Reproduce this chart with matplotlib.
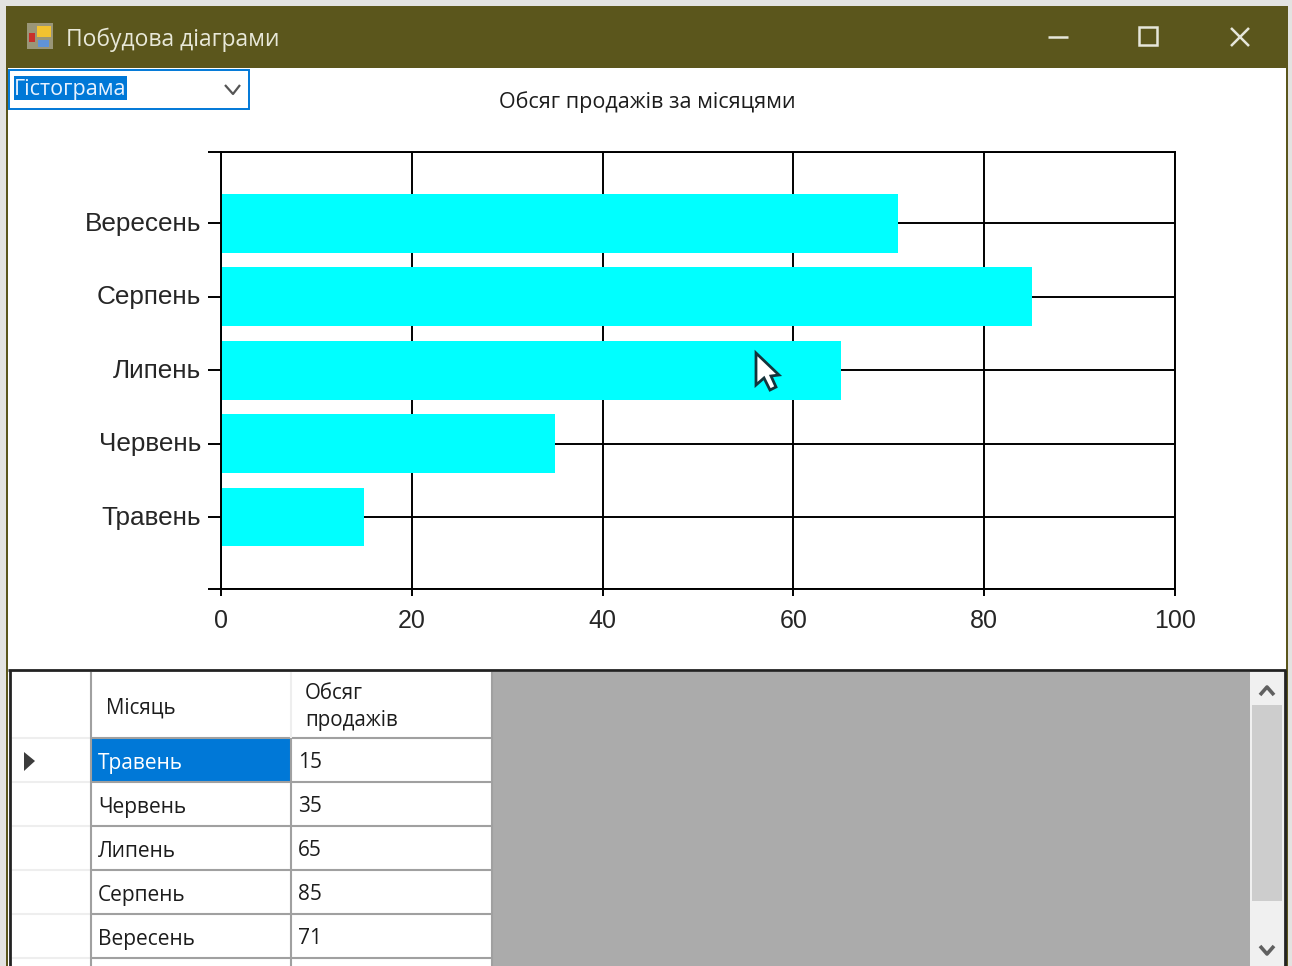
import numpy as np
import matplotlib
matplotlib.use("Agg")
import matplotlib.pyplot as plt
from matplotlib.patches import Rectangle, Polygon
from matplotlib.transforms import ScaledTranslation

W, H = 1292, 966

months = ["Травень", "Червень", "Липень", "Серпень", "Вересень"]
sales = [15, 35, 65, 85, 71]
x_ticks = [0, 20, 40, 60, 80, 100]

window_title = "Побудова діаграми"
chart_title = "Обсяг продажів за місяцями"
combo_text = "Гістограма"
col_month = "Місяць"
col_sales = "Обсяг\nпродажів"

plt.rcParams["font.family"] = ["Liberation Sans", "DejaVu Sans"]

TITLE_BAR = "#5b561c"
TEXT = "#1c1c1c"
GRID_LINE = "#a0a0a0"
FAINT_LINE = "#eeeeee"
SELECT = "#0078d7"
UI_FONT = ["Open Sans", "DejaVu Sans"]


def rect(ax, x0, y0, x1, y1, color, z=1):
    ax.add_patch(Rectangle((x0, y0), x1 - x0, y1 - y0, facecolor=color, edgecolor="none", zorder=z))


def line(ax, xs, ys, color, lw=1.5, z=3):
    ax.plot(xs, ys, color=color, lw=lw, zorder=z, solid_capstyle="butt")


fig = plt.figure(figsize=(W / 100, H / 100), dpi=100, facecolor="#e3e3e1")

# whole window is drawn in pixel coordinates
bg = fig.add_axes([0, 0, 1, 1])
bg.set_xlim(0, W)
bg.set_ylim(H, 0)
bg.axis("off")

rect(bg, 6, 6, 1288, H, TITLE_BAR, 0)
rect(bg, 8, 68, 1286, H, "white", 1)

# title bar
bg.text(66, 40, window_title, fontsize=16.45, color="#e8e8d8", family=UI_FONT, va="center")
rect(bg, 27, 23, 53, 49, "#9a9678", 2)
rect(bg, 37, 26, 51, 37, "#f2c230", 3)
rect(bg, 29, 33, 35, 42, "#c8302a", 3)
rect(bg, 38, 40, 49, 47, "#5f93d8", 3)
line(bg, [1048, 1068], [37, 37], "#e6e6da", 1.8)
bg.add_patch(Rectangle((1139, 27), 18, 18, fill=False, edgecolor="#e6e6da", lw=1.8, zorder=3))
line(bg, [1231, 1249], [28, 46], "#e6e6da", 1.8)
line(bg, [1231, 1249], [46, 28], "#e6e6da", 1.8)

# combo box
bg.add_patch(Rectangle((9, 70), 240, 39, facecolor="white", edgecolor=SELECT, lw=1.4, zorder=3))
rect(bg, 14, 76, 127, 100, SELECT, 4)
bg.text(14, 90, combo_text, fontsize=15.5, color="#e8f2ff", va="center", zorder=5, family=UI_FONT)
line(bg, [225, 233, 240], [85, 94, 85], "#555555", 1.6, 4)

bg.text(647, 102, chart_title, fontsize=15.5, color=TEXT, ha="center", va="center", family=UI_FONT)

# chart
y_min, y_max = 0.02, 5.97
ax = fig.add_axes([221 / W, 1 - 589 / H, (1175 - 221) / W, (589 - 152) / H])
ax.patch.set_alpha(0)
y_pos = np.arange(1, len(months) + 1)
ax.barh(y_pos, sales, height=0.8, color="#00ffff", zorder=2)
ax.set_xlim(0, 100)
ax.set_ylim(y_min, y_max)
ax.set_xticks(x_ticks)
ax.set_yticks([y_min, *y_pos, y_max])
ax.set_yticklabels([""] + months + [""])
ax.grid(True, color="black", lw=1.4)
ax.set_axisbelow(True)
ax.tick_params(axis="y", length=9.4, width=1.4, labelsize=18.8, pad=5, labelcolor="#262626")
ax.tick_params(axis="x", length=5, width=1.4, labelsize=18, pad=9.5, labelcolor="#262626")
for s in ax.spines.values():
    s.set_linewidth(1.4)
# labels sit a little higher than the ticks
for lbl in ax.get_yticklabels():
    lbl.set_transform(lbl.get_transform() + ScaledTranslation(0, 2 / 100, fig.dpi_scale_trans))

# cursor over the chart
cur = fig.add_axes([0, 0, 1, 1], zorder=5)
cur.set_xlim(0, W)
cur.set_ylim(H, 0)
cur.axis("off")
cur.add_patch(Polygon([(756, 353), (756, 385), (764, 378), (770, 390), (776, 387), (771, 376), (779, 375)],
                      closed=True, facecolor="white", edgecolor="#14343c", lw=2))

# data grid underneath
line(bg, [8, 1286], [670, 670], "#222222", 2)
line(bg, [10, 10], [670, H], "#222222", 2)
line(bg, [1285, 1285], [670, H], "#222222", 2)
rect(bg, 493, 672, 1250, H, "#ababab", 1)
rect(bg, 1250, 672, 1284, H, "#f0f0f0", 1)
rect(bg, 1252, 705, 1282, 901, "#cdcdcd", 2)
line(bg, [1260, 1267, 1274], [695, 687, 695], "#606060", 2.6)
line(bg, [1260, 1267, 1274], [946, 954, 946], "#606060", 2.6)

col_x = [91, 291, 492]
row_h = 44
first_row = 738
n_rows = len(months)
row_edges = [first_row + i * row_h for i in range(n_rows + 1)]

for y in row_edges:
    line(bg, [col_x[0], col_x[2]], [y, y], GRID_LINE)
    line(bg, [12, col_x[0]], [y, y], FAINT_LINE)
line(bg, [col_x[0], col_x[0]], [672, H], GRID_LINE)
line(bg, [col_x[1], col_x[1]], [738, H], GRID_LINE)
line(bg, [col_x[1], col_x[1]], [672, 738], FAINT_LINE)
line(bg, [col_x[2], col_x[2]], [672, H], GRID_LINE)
rect(bg, col_x[0] + 1, 739, col_x[1] - 1, 781, SELECT, 2)

bg.text(106, 708, col_month, fontsize=14.8, color=TEXT, va="center", family=UI_FONT)
bg.text(305, 707, col_sales, fontsize=14.8, color=TEXT, va="center", linespacing=1.35, family=UI_FONT)

for i, (m, v) in enumerate(zip(months, sales)):
    yc = first_row + row_h * i + 24
    bg.text(98, yc + 1.5, m, fontsize=15, va="center", color="white" if i == 0 else TEXT, zorder=4, family=UI_FONT)
    bg.text(298, yc, str(v), fontsize=15, va="center", color=TEXT, zorder=4, family=UI_FONT)

bg.add_patch(Polygon([(24, 752), (24, 771), (35, 761)], closed=True, facecolor="#3c3c3c", zorder=4))

fig.savefig("out.png", dpi=100, facecolor=fig.get_facecolor())
